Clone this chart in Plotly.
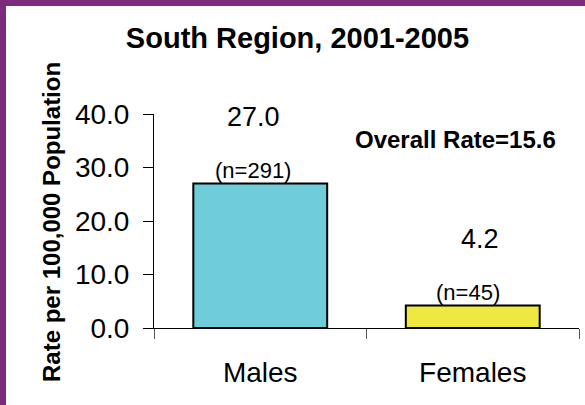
import plotly.graph_objects as go

# ---- data ----
categories = ["Males", "Females"]
rates = [27.0, 4.2]
counts = [291, 45]
bar_colors = ["#6FCDD9", "#EEE840"]
overall_rate = 15.6
title_text = "South Region, 2001-2005"
y_title = "Rate per 100,000 Population"
y_ticks = [0, 10, 20, 30, 40]

# ---- layout geometry (pixels) ----
W, H = 585, 405
ML, MR, MT, MB = 154, 6, 114, 77
PW, PH = W - ML - MR, H - MT - MB
PURPLE = "#7B2A7C"
FONT = "Liberation Sans, Arial, sans-serif"


def px_x(px):
    return (px - ML) / PW


def px_y(py):
    return (H - MB - py) / PH


fig = go.Figure()
fig.add_trace(go.Bar(
    x=categories, y=rates,
    marker=dict(color=bar_colors, line=dict(color="black", width=2)),
    width=0.63,
    hoverinfo="skip",
))

annotations = []
val_shifts = [-7, 7]
n_shifts = [-7, -5]
for cat, r, n, vs, ns in zip(categories, rates, counts, val_shifts, n_shifts):
    annotations.append(dict(
        x=cat, y=r, xref="x", yref="y", text=f"{r:.1f}", showarrow=False,
        yanchor="middle", yshift=67, xshift=vs,
        font=dict(family=FONT, size=27, color="black"),
    ))
    annotations.append(dict(
        x=cat, y=r, xref="x", yref="y", text=f"(n={n})", showarrow=False,
        yanchor="bottom", yshift=-1, xshift=ns,
        font=dict(family=FONT, size=22, color="black"),
    ))

annotations.append(dict(
    x=px_x(455), y=px_y(139), xref="paper", yref="paper",
    text=f"<b>Overall Rate={overall_rate}</b>", showarrow=False,
    xanchor="center", yanchor="middle",
    font=dict(family=FONT, size=24, color="black"),
))
annotations.append(dict(
    x=px_x(51), y=px_y(222), xref="paper", yref="paper",
    text=f"<b>{y_title}</b>", showarrow=False, textangle=-90,
    xanchor="center", yanchor="middle",
    font=dict(family=FONT, size=24, color="black"),
))

shapes = [
    dict(type="rect", xref="paper", yref="paper",
         x0=px_x(0), x1=px_x(W), y0=px_y(6), y1=px_y(0),
         fillcolor=PURPLE, line=dict(width=0), layer="above"),
    dict(type="rect", xref="paper", yref="paper",
         x0=px_x(0), x1=px_x(6), y0=px_y(H), y1=px_y(0),
         fillcolor=PURPLE, line=dict(width=0), layer="above"),
]

fig.update_layout(
    width=W, height=H,
    margin=dict(l=ML, r=MR, t=MT, b=MB, pad=0),
    paper_bgcolor="white", plot_bgcolor="white",
    showlegend=False,
    bargap=0.37,
    title=dict(text=f"<b>{title_text}</b>", x=297.5 / W, y=1 - 38 / H,
               xanchor="center", yanchor="middle",
               font=dict(family=FONT, size=29, color="black")),
    annotations=annotations,
    shapes=shapes,
    xaxis=dict(
        showline=True, linecolor="black", linewidth=1,
        ticks="outside", ticklen=10, tickcolor="#555", tickwidth=1,
        tickson="boundaries", showgrid=False, zeroline=False,
        tickfont=dict(family=FONT, size=28, color="black"),
        ticklabelstandoff=19,
        fixedrange=True,
    ),
    yaxis=dict(
        range=[0, 40], tickvals=y_ticks, tickformat=".1f",
        showline=True, linecolor="black", linewidth=1,
        ticks="outside", ticklen=10, tickcolor="black", tickwidth=1,
        showgrid=False, zeroline=False,
        tickfont=dict(family=FONT, size=28, color="black"),
        ticklabelstandoff=8,
        fixedrange=True,
    ),
)

fig.write_html(
    "out.html",
    config={"displayModeBar": False},
    post_script="document.body.style.margin='0';document.body.style.overflow='hidden';",
)
